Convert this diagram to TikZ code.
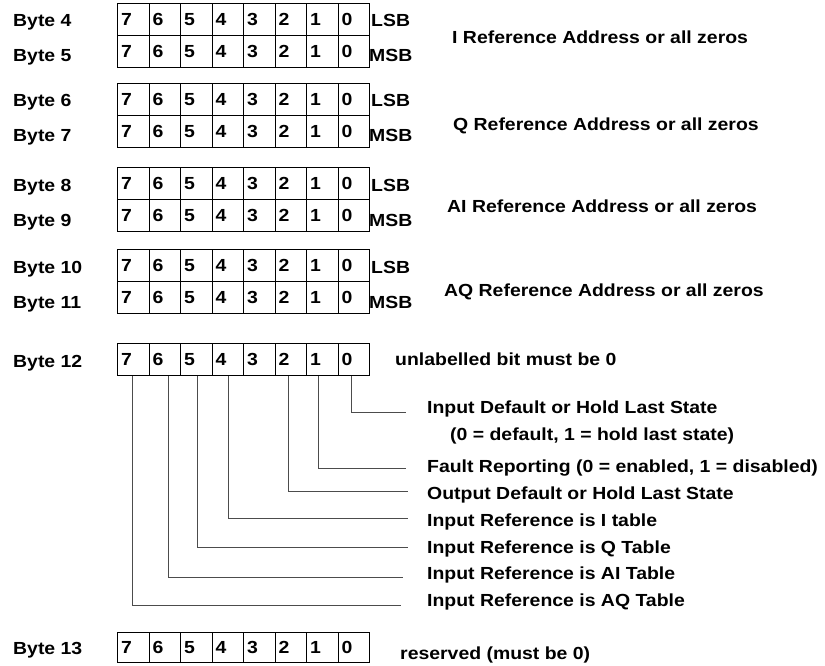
\documentclass[tikz,border=0pt]{standalone}
\usepackage{fontspec}
\setmainfont{Liberation Sans}[FakeStretch=1.11]
\tikzset{
  cell/.style={draw, line width=1.1pt, anchor=north west, minimum width=31.5pt,
    text width=24.5pt, inner xsep=3.5pt, inner ysep=0pt, align=left, font=\lbfont},
  lbl/.style={anchor=base west, inner sep=0pt, font=\lbfont},
  leader/.style={draw=black!70, line width=0.8pt}
}
\newcommand\lbfont{\fontsize{17.5}{19}\selectfont\bfseries}
\begin{document}
\begin{tikzpicture}[x=1pt,y=-1pt]
\useasboundingbox (0,0) rectangle (825,666);
% byte pairs
\foreach \tp/\ba/\bb/\dn/\dx/\dy in {3/4/5/I/452/44, 83/6/7/Q/453/131, 167/8/9/AI/447/212, 249/10/11/AQ/444/296}{
  \node[lbl] (b\ba) at (13,\tp+24) {Byte \ba};
  \node[lbl] (b\bb) at (13,\tp+59) {Byte \bb};
  \foreach \b in {7,...,0}{
    \node[cell, minimum height=32pt] (c\ba-\b) at ({117+(7-\b)*31.5},\tp) {\b};
    \node[cell, minimum height=32pt] (c\bb-\b) at ({117+(7-\b)*31.5},\tp+32) {\b};
  }
  \node[lbl] (lsb\ba) at (371,\tp+24) {LSB};
  \node[lbl] (msb\bb) at (369,\tp+59) {MSB};
  \node[lbl] (d\ba) at (\dx,\dy) {\dn\ Reference Address or all zeros};
}
% byte 12
\node[lbl] (b12) at (13,367) {Byte 12};
\foreach \b in {7,...,0}{
  \node[cell, minimum height=32pt] (c12-\b) at ({117+(7-\b)*31.5},343) {\b};
}
\node[lbl] (u12) at (395,365) {unlabelled bit must be 0};
% leader labels
\node[lbl] (l0) at (427,413) {Input Default or Hold Last State};
\node[lbl] (l0b) at (450,440) {(0 = default, 1 = hold last state)};
\node[lbl] (l1) at (427,472) {Fault Reporting (0 = enabled, 1 = disabled)};
\node[lbl] (l2) at (427,499) {Output Default or Hold Last State};
\node[lbl] (l4) at (427,526) {Input Reference is I table};
\node[lbl] (l5) at (427,553) {Input Reference is Q Table};
\node[lbl] (l6) at (427,579) {Input Reference is AI Table};
\node[lbl] (l7) at (427,606) {Input Reference is AQ Table};
% leader end points
\coordinate (e0) at (406,412);
\coordinate (e1) at (406,468);
\coordinate (e2) at (408,491);
\coordinate (e4) at (408,518);
\coordinate (e5) at (408,547);
\coordinate (e6) at (403,577);
\coordinate (e7) at (401,605);
\draw[leader] ([xshift=-2.25pt]c12-0.south) |- (e0);
\draw[leader] ([xshift=-3.75pt]c12-1.south) |- (e1);
\draw[leader] ([xshift=-2.25pt]c12-2.south) |- (e2);
\draw[leader] ([xshift=0.75pt]c12-4.south) |- (e4);
\draw[leader] ([xshift=1.25pt]c12-5.south) |- (e5);
\draw[leader] ([xshift=3.75pt]c12-6.south) |- (e6);
\draw[leader] ([xshift=-0.75pt]c12-7.south) |- (e7);
% byte 13
\node[lbl] (b13) at (13,654) {Byte 13};
\foreach \b in {7,...,0}{
  \node[cell, minimum height=30pt] (c13-\b) at ({117+(7-\b)*31.5},632) {\b};
}
\node[lbl] (r13) at (400,659) {reserved (must be 0)};
\end{tikzpicture}
\end{document}
